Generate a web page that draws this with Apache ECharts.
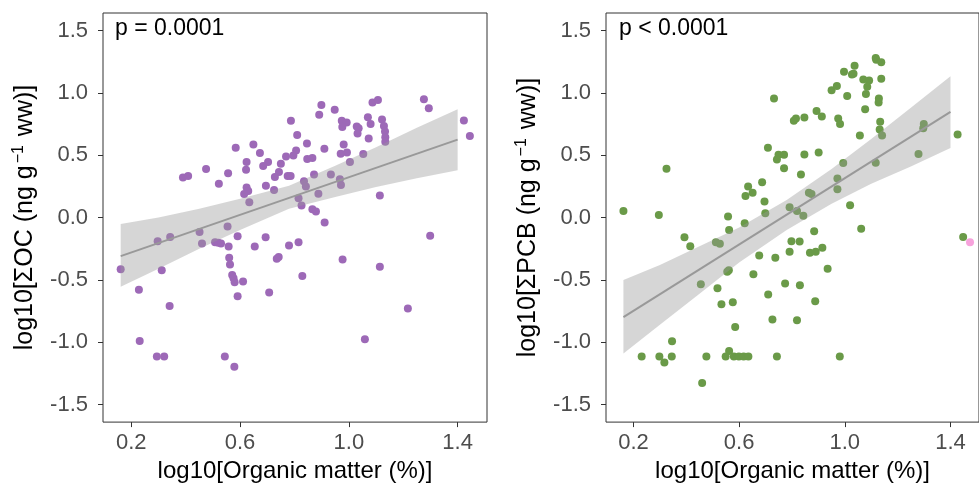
<!DOCTYPE html>
<html>
<head>
<meta charset="utf-8">
<script src="https://cdn.jsdelivr.net/npm/echarts@6/dist/echarts.min.js"></script>
<style>
  html, body { margin: 0; padding: 0; background: #fff; }
  #chart { width: 979px; height: 488px; }
</style>
</head>
<body>
<div id="chart"></div>
<script>
// ΣOC vs organic matter (log10)
const ocX = [0.787,0.810,0.806,0.584,0.649,0.673,0.624,0.622,0.769,0.796,0.703,0.685,0.750,0.390,0.409,0.475,0.556,0.522,0.743,0.728,0.775,0.786,0.695,0.624,0.630,0.615,0.725,0.634,0.815,
  0.899,0.891,0.948,0.846,0.847,0.866,0.910,0.974,0.992,0.976,1.029,1.036,1.032,1.070,1.080,1.087,1.107,1.122,1.129,1.133,1.134,1.134,1.073,0.981,0.970,0.993,1.053,1.004,1.276,1.294,1.423,1.445,
  0.872,0.934,0.835,0.842,0.967,0.971,0.888,0.826,0.866,0.879,1.114,
  0.911,0.780,0.815,0.742,0.977,1.114,0.829,1.299,1.217,1.059,
  0.161,0.297,0.343,0.451,0.460,0.554,0.508,0.520,0.530,0.558,0.591,0.654,0.694,0.735,0.312,0.228,0.341,0.560,0.563,0.571,0.576,0.580,0.611,0.591,0.707,0.231,0.294,0.321,0.544,0.579];
const ocY = [0.776,0.662,0.538,0.559,0.585,0.517,0.446,0.384,0.490,0.498,0.446,0.414,0.432,0.321,0.334,0.390,0.355,0.271,0.366,0.326,0.334,0.334,0.255,0.241,0.212,0.188,0.220,0.122,0.154,
  0.903,0.824,0.864,0.593,0.469,0.477,0.551,0.776,0.763,0.726,0.731,0.716,0.673,0.805,0.750,0.922,0.943,0.787,0.734,0.689,0.644,0.607,0.633,0.585,0.512,0.522,0.509,0.446,0.948,0.877,0.779,0.654,
  0.345,0.345,0.292,0.249,0.307,0.260,0.191,0.096,0.067,0.048,0.176,
  -0.039,-0.225,-0.198,-0.317,-0.336,-0.394,-0.468,-0.145,-0.730,-0.976,
  -0.415,-0.190,-0.156,-0.116,-0.209,-0.071,-0.198,-0.203,-0.209,-0.233,-0.150,-0.233,-0.158,-0.330,-0.423,-0.579,-0.709,-0.322,-0.376,-0.460,-0.487,-0.519,-0.513,-0.630,-0.600,-0.990,-1.114,-1.114,-1.114,-1.196];

// ΣPCB vs organic matter (log10)
const pcbX = [0.732,0.709,0.749,0.743,0.770,0.770,0.325,0.687,0.634,0.651,0.624,0.696,0.699,0.162,0.296,0.558,
  0.562,0.393,0.415,0.512,0.527,0.621,0.555,0.561,0.676,0.737,0.654,0.455,0.518,0.533,0.576,0.710,0.774,0.726,0.585,0.346,0.562,0.231,0.298,0.345,0.317,0.476,0.549,0.580,0.599,0.617,0.635,0.743,0.460,
  1.117,1.119,1.138,1.037,0.997,1.027,1.033,1.070,1.092,1.085,1.080,1.138,0.950,0.970,1.009,1.129,1.128,1.077,0.893,0.913,0.807,0.815,0.847,0.975,0.982,1.134,1.132,1.141,1.057,1.299,1.297,1.427,1.279,
  0.847,0.901,0.834,0.994,1.117,0.972,0.972,0.864,0.874,0.791,0.819,0.843,1.020,
  0.884,1.062,0.798,0.829,0.791,0.868,0.890,0.915,0.935,0.830,0.888,0.819,0.981,1.448];
const pcbY = [0.954,0.559,0.504,0.466,0.504,0.395,0.392,0.284,0.249,0.199,0.172,0.128,0.035,0.053,0.021,0.009,
  -0.100,-0.158,-0.230,-0.198,-0.211,-0.045,-0.434,-0.423,-0.304,-0.322,-0.455,-0.534,-0.566,-0.696,-0.680,-0.616,-0.529,-0.817,-0.878,-0.992,-1.069,-1.114,-1.114,-1.114,-1.162,-1.114,-1.114,-1.114,-1.114,-1.114,-1.114,-1.114,-1.326,
  1.280,1.266,1.245,1.218,1.168,1.147,1.152,1.107,1.099,1.049,0.991,1.113,1.020,1.054,0.975,0.954,0.922,0.869,0.855,0.811,0.776,0.795,0.803,0.795,0.750,0.768,0.705,0.657,0.657,0.750,0.716,0.665,0.509,
  0.506,0.522,0.345,0.438,0.440,0.313,0.226,0.199,0.188,0.083,0.053,0.014,0.099,
  -0.110,-0.090,-0.190,-0.193,-0.275,-0.283,-0.275,-0.243,-0.410,-0.542,-0.672,-0.823,-1.114,-0.156];

// point of a further group, at the right edge of the PCB panel
const extraX = [1.474];
const extraY = [-0.198];

// fitted lines and 95% confidence bands
const ocFitX = [0.161, 1.40];
const ocFitY = [-0.309, 0.625];
const ocBandX = [0.161, 0.30, 0.45, 0.60, 0.78, 0.95, 1.10, 1.25, 1.40];
const ocBandLow = [-0.555, -0.41, -0.25, -0.10, 0.07, 0.165, 0.245, 0.315, 0.379];
const ocBandHigh = [-0.052, 0.00, 0.07, 0.15, 0.255, 0.415, 0.563, 0.72, 0.869];

const pcbFitX = [0.162, 1.40];
const pcbFitY = [-0.799, 0.848];
const pcbBandX = [0.162, 0.30, 0.45, 0.60, 0.78, 0.95, 1.10, 1.25, 1.40];
const pcbBandLow = [-1.09, -0.86, -0.61, -0.36, -0.10, 0.11, 0.27, 0.41, 0.557];
const pcbBandHigh = [-0.50, -0.38, -0.23, -0.08, 0.14, 0.39, 0.63, 0.88, 1.133];

const xTicks = [0.2, 0.6, 1.0, 1.4];
const yTicks = [-1.5, -1.0, -0.5, 0.0, 0.5, 1.0, 1.5];
const pLabels = ['p = 0.0001', 'p < 0.0001'];

const FONT = '"Liberation Sans", Arial, sans-serif';
const pairs = (xs, ys) => xs.map((x, i) => [x, ys[i]]);

function bandSeries(idx, bx, lo, hi) {
  return {
    type: 'custom',
    xAxisIndex: idx, yAxisIndex: idx,
    data: bx.map((x, i) => [x, lo[i], hi[i]]),
    encode: { x: 0, y: [1, 2] },
    clip: true,
    z: 3,
    silent: true,
    renderItem: function (params, api) {
      if (params.dataIndex !== 0) return;
      const pts = [];
      for (let i = 0; i < bx.length; i++) pts.push(api.coord([bx[i], hi[i]]));
      for (let i = bx.length - 1; i >= 0; i--) pts.push(api.coord([bx[i], lo[i]]));
      return { type: 'polygon', shape: { points: pts }, style: { fill: 'rgba(153,153,153,0.4)' } };
    }
  };
}

function xAxis(idx) {
  return {
    type: 'value', gridIndex: idx, min: 0.096, max: 1.508,
    name: 'log10[Organic matter (%)]', nameLocation: 'middle', nameGap: 32,
    nameTextStyle: { fontFamily: FONT, fontSize: 24, color: '#000' },
    axisLine: { show: false, onZero: false },
    axisTick: { show: true, length: 5, customValues: xTicks, lineStyle: { color: '#333', width: 1 } },
    axisLabel: { customValues: xTicks, margin: 10, fontFamily: FONT, fontSize: 22, color: '#4d4d4d',
      formatter: v => v.toFixed(1) },
    splitLine: { show: false }
  };
}

function yAxis(idx, title) {
  return {
    type: 'value', gridIndex: idx, min: -1.64, max: 1.64,
    name: title, nameLocation: 'middle', nameGap: 63, nameRotate: 90,
    nameTextStyle: { fontFamily: FONT, fontSize: 25, color: '#000', lineHeight: 29,
      rich: { sup: { fontFamily: FONT, fontSize: 16, color: '#000', verticalAlign: 'top', lineHeight: 16, padding: [0, 2, 0, 2] } } },
    axisLine: { show: false, onZero: false },
    axisTick: { show: true, length: 5, customValues: yTicks, lineStyle: { color: '#333', width: 1 } },
    axisLabel: { customValues: yTicks, margin: 15, fontFamily: FONT, fontSize: 22, color: '#4d4d4d',
      formatter: v => v.toFixed(1) },
    splitLine: { show: false }
  };
}

const chart = echarts.init(document.getElementById('chart'), null, { renderer: 'canvas' });
chart.setOption({
  animation: false,
  backgroundColor: '#fff',
  grid: [
    { left: 103, top: 13, width: 384, height: 413, show: true, borderColor: '#333', borderWidth: 1, backgroundColor: 'transparent' },
    { left: 606, top: 13, width: 384, height: 413, show: true, borderColor: '#333', borderWidth: 1, backgroundColor: 'transparent' }
  ],
  xAxis: [xAxis(0), xAxis(1)],
  yAxis: [
    yAxis(0, 'log10[ΣOC (ng g{sup|−1} ww)]'),
    yAxis(1, 'log10[ΣPCB (ng g{sup|−1} ww)]')
  ],
  graphic: [
    { type: 'text', left: 115, top: 17, style: { text: pLabels[0], font: '23px ' + FONT, fill: '#000' } },
    { type: 'text', left: 619, top: 17, style: { text: pLabels[1], font: '23px ' + FONT, fill: '#000' } }
  ],
  series: [
    { type: 'scatter', xAxisIndex: 0, yAxisIndex: 0, data: pairs(ocX, ocY), symbolSize: 8,
      itemStyle: { color: '#9d69b7', opacity: 1 }, z: 2 },
    bandSeries(0, ocBandX, ocBandLow, ocBandHigh),
    { type: 'line', xAxisIndex: 0, yAxisIndex: 0, data: pairs(ocFitX, ocFitY), symbol: 'none',
      lineStyle: { color: '#999', width: 2 }, z: 4 },

    { type: 'scatter', xAxisIndex: 1, yAxisIndex: 1, data: pairs(pcbX, pcbY), symbolSize: 8,
      itemStyle: { color: '#6a9a48', opacity: 1 }, z: 2 },
    { type: 'scatter', xAxisIndex: 1, yAxisIndex: 1, data: pairs(extraX, extraY), symbolSize: 8,
      itemStyle: { color: '#f7a3dc', opacity: 1 }, z: 2 },
    bandSeries(1, pcbBandX, pcbBandLow, pcbBandHigh),
    { type: 'line', xAxisIndex: 1, yAxisIndex: 1, data: pairs(pcbFitX, pcbFitY), symbol: 'none',
      lineStyle: { color: '#999', width: 2 }, z: 4 }
  ]
});
</script>
</body>
</html>
